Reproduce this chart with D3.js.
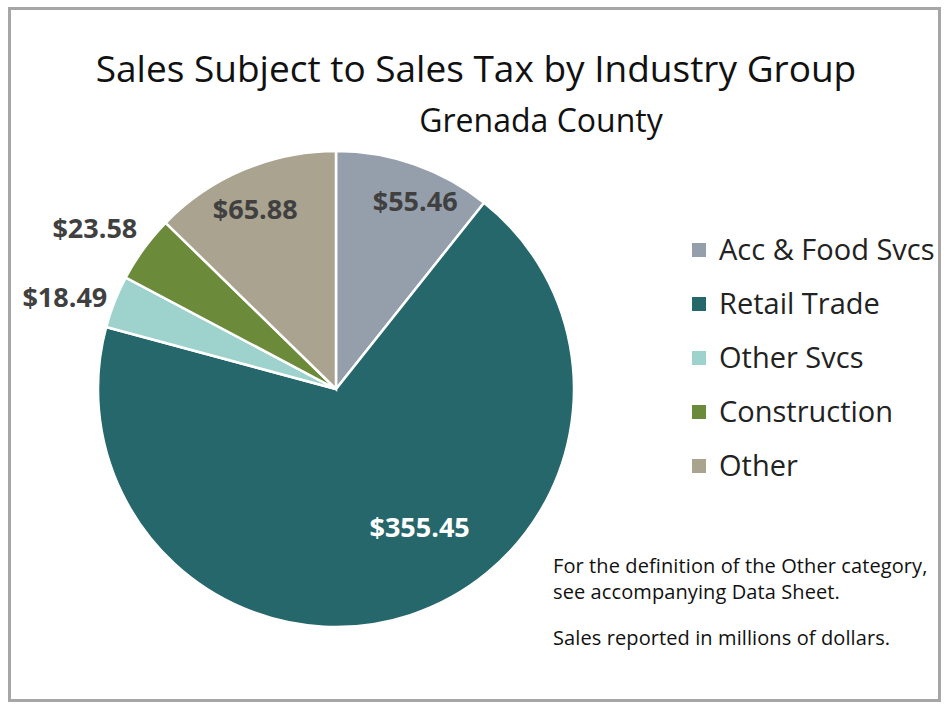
<!DOCTYPE html>
<html>
<head>
<meta charset="utf-8">
<script src="https://cdn.jsdelivr.net/npm/d3@7"></script>
<style>
  body { margin: 0; background: #fff; }
  svg { display: block; font-family: "Open Sans", "Liberation Sans", sans-serif; }
</style>
</head>
<body>
<div class="canvas"></div>
<script>
const categories = ['Acc & Food Svcs', 'Retail Trade', 'Other Svcs', 'Construction', 'Other'];
const values = [55.46, 355.45, 18.49, 23.58, 65.88];
const colors = ['#959fac', '#26676c', '#9dd2cd', '#6b8a3a', '#a9a390'];

// label placement: radius factor and angle nudge (degrees), Excel-ish "best fit"
const labelPlace = {
  'Acc & Food Svcs': { r: 0.853, da: 3.7, color: '#404040' },
  'Retail Trade':    { r: 0.68, da: -12.9, color: '#ffffff' },
  'Other Svcs':      { r: 1.203, da: -2.8, color: '#404040' },
  'Construction':    { r: 1.218, da: -2.4, color: '#404040' },
  'Other':           { r: 0.826, da: -1.4, color: '#404040' }
};

const svgWidth = 949;
const svgHeight = 704;
const cx = 336, cy = 389, radius = 238;

const svg = d3.select('.canvas')
  .append('svg')
    .attr('width', svgWidth)
    .attr('height', svgHeight);

// frame
svg.append('rect')
  .attr('x', 9.5).attr('y', 8.5)
  .attr('width', 930).attr('height', 692)
  .attr('fill', 'none')
  .attr('stroke', '#a6a6a6')
  .attr('stroke-width', 3);

// titles
svg.append('text')
  .attr('x', 476).attr('y', 82)
  .attr('text-anchor', 'middle')
  .attr('font-size', 37)
  .attr('fill', '#111')
  .text('Sales Subject to Sales Tax by Industry Group');

svg.append('text')
  .attr('x', 541).attr('y', 132)
  .attr('text-anchor', 'middle')
  .attr('font-size', 32)
  .attr('fill', '#111')
  .text('Grenada County');

const data = categories.map((c, i) => ({ name: c, value: values[i], color: colors[i] }));

const pie = d3.pie().sort(null).value(d => d.value);
const arc = d3.arc().innerRadius(0).outerRadius(radius);

const g = svg.append('g')
  .attr('transform', `translate(${cx}, ${cy})`);

const arcs = pie(data);

g.selectAll('path')
  .data(arcs)
  .enter().append('path')
    .attr('d', arc)
    .attr('fill', d => d.data.color)
    .attr('stroke', '#fff')
    .attr('stroke-width', 2.5);

g.selectAll('text.label')
  .data(arcs)
  .enter().append('text')
    .attr('class', 'label')
    .attr('transform', d => {
      const p = labelPlace[d.data.name];
      const r = radius * p.r;
      const a = (d.startAngle + d.endAngle) / 2 + p.da * Math.PI / 180;
      return `translate(${r * Math.sin(a)}, ${-r * Math.cos(a)})`;
    })
    .attr('text-anchor', 'middle')
    .attr('dy', '0.35em')
    .attr('font-size', 27)
    .attr('font-weight', 'bold')
    .attr('fill', d => labelPlace[d.data.name].color)
    .text(d => '$' + d.data.value.toFixed(2));

// legend
const legend = svg.append('g')
  .attr('transform', 'translate(692, 243)');

const item = legend.selectAll('g')
  .data(data)
  .enter().append('g')
    .attr('transform', (d, i) => `translate(0, ${i * 54})`);

item.append('rect')
  .attr('width', 14).attr('height', 14)
  .attr('fill', d => d.color);

item.append('text')
  .attr('x', 27).attr('y', 17)
  .attr('font-size', 29)
  .attr('fill', '#222')
  .text(d => d.name);

// notes
const notes = ['For the definition of the Other category,', 'see accompanying Data Sheet.', 'Sales reported in millions of dollars.'];
const noteY = [573, 599, 645];
svg.selectAll('text.note')
  .data(notes)
  .enter().append('text')
    .attr('class', 'note')
    .attr('x', 553)
    .attr('y', (d, i) => noteY[i])
    .attr('font-size', 20)
    .attr('letter-spacing', 0.1)
    .attr('fill', '#111')
    .text(d => d);
</script>
</body>
</html>
